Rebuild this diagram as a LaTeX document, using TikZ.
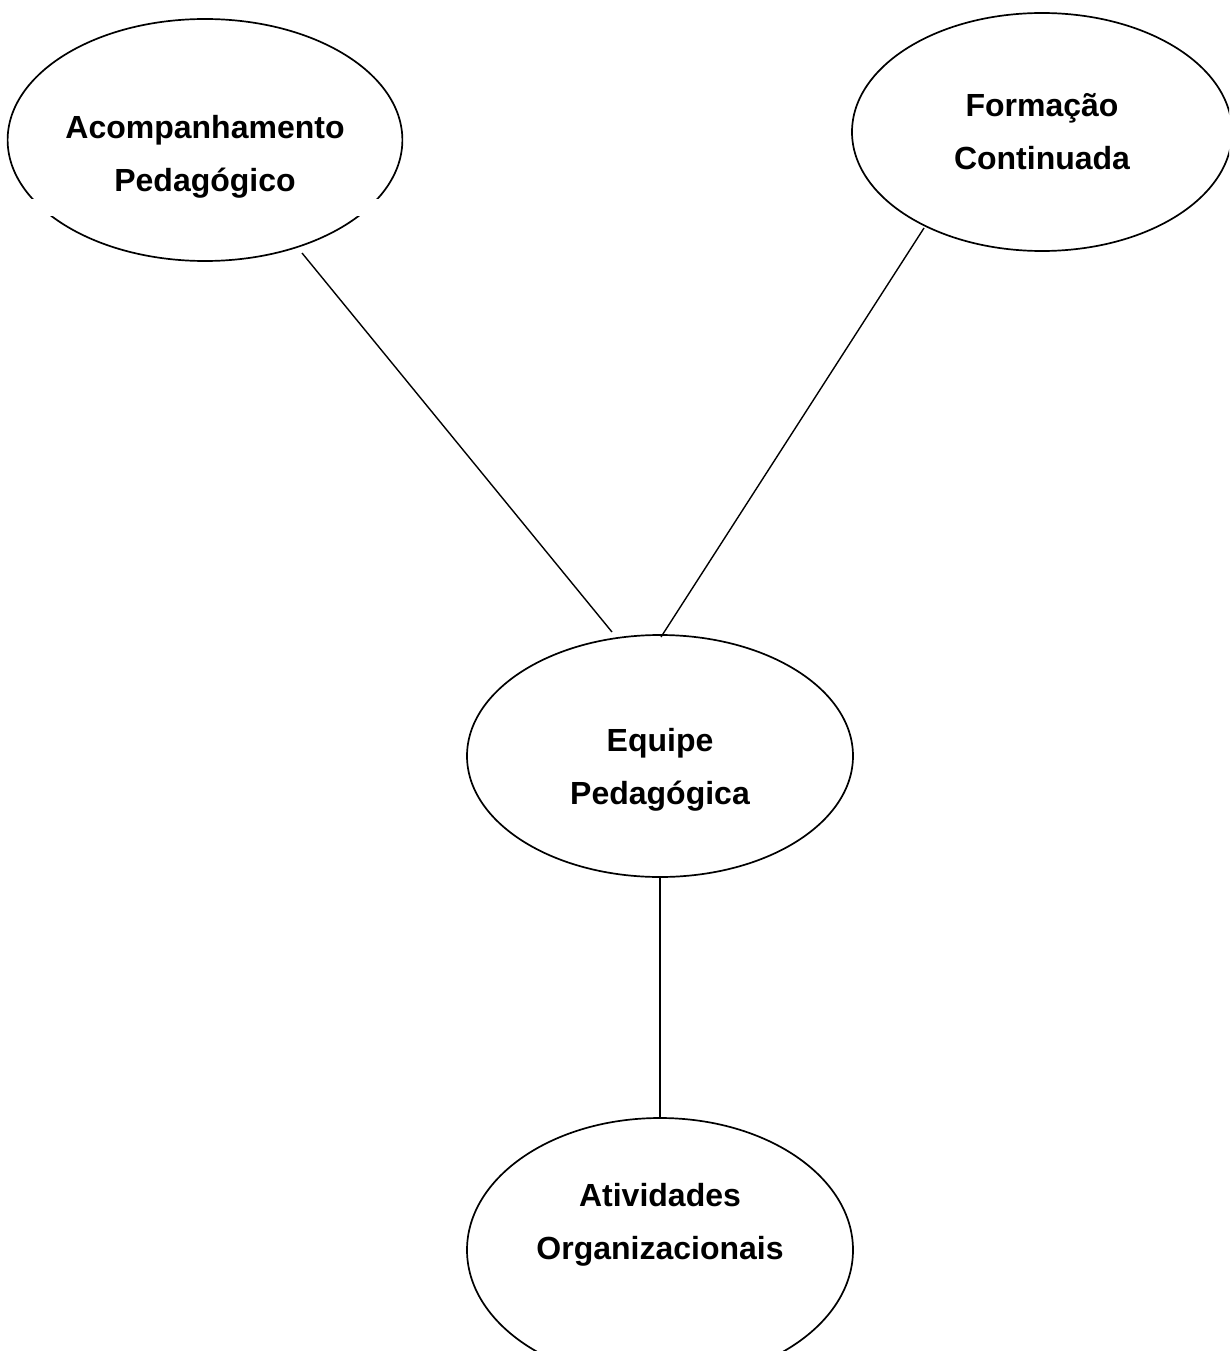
\documentclass[tikz,border=0pt]{standalone}
\usepackage{fontspec}
\setmainfont{Liberation Sans}
\usetikzlibrary{shapes.geometric}

\begin{document}
\begin{tikzpicture}[x=1pt, y=-1pt,
  bubble/.style = {shape=ellipse, draw, line width=1.7pt, align=center,
    inner sep=0pt, minimum width=386pt, minimum height=242pt,
    font=\bfseries\fontsize{32}{53}\selectfont},
  link/.style = {line width=1.4pt}]
  \useasboundingbox (0,0) rectangle (1229,1351);
  \clip (0,0) rectangle (1229,1351);
  \node[bubble, text height=110pt] (acomp) at (205,140) {Acompanhamento\\Pedagógico};
  % gap in the outline of the first bubble
  \fill[white] (0,199) rectangle (420,216);
  \node[bubble, minimum width=380pt, minimum height=238pt] (form) at (1042,132) {Formação\\Continuada};
  \node[bubble, text height=104pt] (equipe) at (660,756) {Equipe\\Pedagógica};
  \node[bubble, minimum height=264pt, text depth=57pt] (ativ) at (660,1250) {Atividades\\Organizacionais};
  \coordinate (a1) at (302,253);
  \coordinate (a2) at (612,632);
  \coordinate (f1) at (924,228);
  \coordinate (f2) at (661,637);
  \draw[link] (a1) -- (a2);
  \draw[link] (f1) -- (f2);
  \draw[link] (equipe.south) -- (ativ.north);
\end{tikzpicture}
\end{document}
